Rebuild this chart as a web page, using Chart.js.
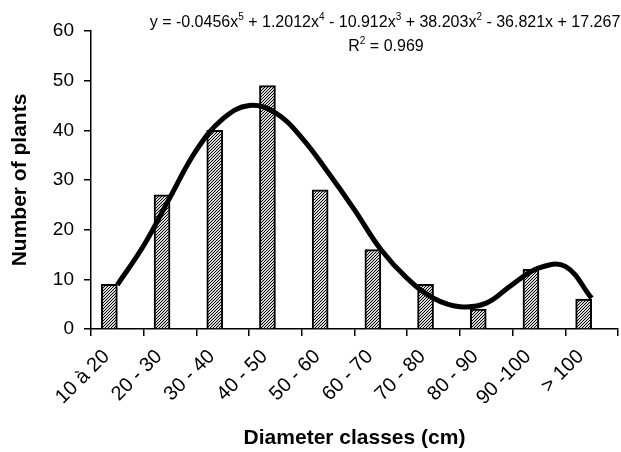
<!DOCTYPE html>
<html>
<head>
<meta charset="utf-8">
<title>Diameter classes</title>
<script src="https://cdn.jsdelivr.net/npm/chart.js"></script>
<style>
  html, body { margin: 0; padding: 0; background: #fff; }
  #wrap { width: 621px; height: 452px; }
</style>
</head>
<body>
<div id="wrap"><canvas id="grafico" width="621" height="452"></canvas></div>
<script>
// datos
const clases = ["10 à 20", "20 - 30", "30 - 40", "40 - 50", "50 - 60", "60 - 70", "70 - 80", "80 - 90", "90 -100", "> 100"];
const plantas = [9, 27, 40, 49, 28, 16, 9, 4, 12, 6];

// linea de tendencia (posicion de clase 1..10)
const tendX = [1, 1.5, 2, 2.5, 3, 3.5, 4, 4.5, 5, 5.5, 6, 6.5, 7, 7.5, 8, 8.5, 9, 9.5, 10];
const tendY = [8.9, 16.8, 26.5, 36, 42.3, 45, 43.5, 38.5, 31.5, 24, 16, 10.2, 6.2, 4.5, 5.2, 9, 12.3, 12.6, 6.2];

const yTicks = [0, 10, 20, 30, 40, 50, 60];
const ecuacion = "y = -0.0456x^5 + 1.2012x^4 - 10.912x^3 + 38.203x^2 - 36.821x + 17.267";
const r2 = "R^2 = 0.969";

const FONT = "'Liberation Sans', Arial, sans-serif";

// relleno rayado fino de las barras
function crearPatron() {
    const pc = document.createElement("canvas");
    pc.width = 3;
    pc.height = 3;
    const g = pc.getContext("2d");
    g.fillStyle = "#d8d8d8";
    g.fillRect(0, 0, 3, 3);
    g.fillStyle = "#000000";
    for (let x = 0; x < 3; x++) {
        for (let y = 0; y < 3; y++) {
            if ((x + y) % 3 === 0) g.fillRect(x, y, 1, 1);
        }
    }
    return g.createPattern(pc, "repeat");
}

// texto con superindices marcados con ^
function textoSup(ctx, texto, cx, cy, size) {
    const partes = [];
    const re = /\^(\d)/g;
    let last = 0, m;
    while ((m = re.exec(texto)) !== null) {
        partes.push({ t: texto.slice(last, m.index), sup: false });
        partes.push({ t: m[1], sup: true });
        last = re.lastIndex;
    }
    partes.push({ t: texto.slice(last), sup: false });

    const normal = size + "px " + FONT;
    const chico = Math.round(size * 0.62) + "px " + FONT;
    let total = 0;
    partes.forEach(p => {
        ctx.font = p.sup ? chico : normal;
        p.w = ctx.measureText(p.t).width;
        total += p.w;
    });
    let x = cx - total / 2;
    ctx.textBaseline = "alphabetic";
    ctx.textAlign = "left";
    ctx.fillStyle = "#000";
    partes.forEach(p => {
        ctx.font = p.sup ? chico : normal;
        ctx.fillText(p.t, x, p.sup ? cy - size * 0.42 : cy);
        x += p.w;
    });
}

const ecuacionPlugin = {
    id: "ecuacion",
    afterDraw(chart) {
        const ctx = chart.ctx;
        ctx.save();
        textoSup(ctx, ecuacion, 385, 27, 16);
        textoSup(ctx, r2, 386, 51, 16);
        ctx.restore();
    }
};

const ctx = document.getElementById("grafico").getContext("2d");
new Chart(ctx, {
    type: "bar",
    data: {
        labels: clases,
        datasets: [
            {
                type: "line",
                label: "Tendencia",
                data: tendX.map((x, i) => ({ x: x, y: tendY[i] })),
                xAxisID: "x2",
                borderColor: "#000",
                borderWidth: 5,
                tension: 0.4,
                pointRadius: 0,
                fill: false,
                order: 0
            },
            {
                label: "Number of plants",
                data: plantas,
                backgroundColor: crearPatron(),
                borderColor: "#000",
                borderWidth: 2,
                barThickness: 16,
                order: 1
            },
            {
                label: "vacio",
                data: clases.map(() => null),
                barThickness: 16,
                order: 2
            }
        ]
    },
    options: {
        responsive: false,
        animation: false,
        layout: { padding: { top: 31, right: 3, left: 0, bottom: 0 } },
        plugins: {
            legend: { display: false },
            tooltip: { enabled: false }
        },
        scales: {
            x: {
                type: "category",
                offset: true,
                grid: {
                    offset: true,
                    drawOnChartArea: false,
                    drawTicks: true,
                    tickLength: 7,
                    color: "#000",
                    lineWidth: 1.5
                },
                border: { color: "#000", width: 1.5 },
                ticks: {
                    color: "#000",
                    font: { family: FONT, size: 20 },
                    maxRotation: 45,
                    minRotation: 45,
                    autoSkip: false,
                    padding: 9,
                    labelOffset: -11
                },
                title: {
                    display: true,
                    text: "Diameter classes (cm)",
                    color: "#000",
                    font: { family: FONT, size: 21, weight: "bold" },
                    padding: { top: 4, bottom: 1 }
                },
                afterFit(scale) { scale.height = 123; }
            },
            x2: {
                type: "linear",
                display: false,
                offset: false,
                grid: { offset: false },
                min: 0.5,
                max: 10.5
            },
            y: {
                min: 0,
                max: 60,
                afterBuildTicks(scale) { scale.ticks = yTicks.map(v => ({ value: v })); },
                grid: {
                    drawOnChartArea: false,
                    drawTicks: true,
                    tickLength: 7,
                    color: "#000",
                    lineWidth: 1.5
                },
                border: { color: "#000", width: 1.5 },
                ticks: {
                    color: "#000",
                    font: { family: FONT, size: 19 },
                    padding: 10
                },
                title: {
                    display: true,
                    text: "Number of plants",
                    color: "#000",
                    font: { family: FONT, size: 21, weight: "bold" },
                    padding: { top: 8, bottom: 4 }
                },
                afterFit(scale) { scale.width = 91; }
            }
        }
    },
    plugins: [ecuacionPlugin]
});
</script>
</body>
</html>
